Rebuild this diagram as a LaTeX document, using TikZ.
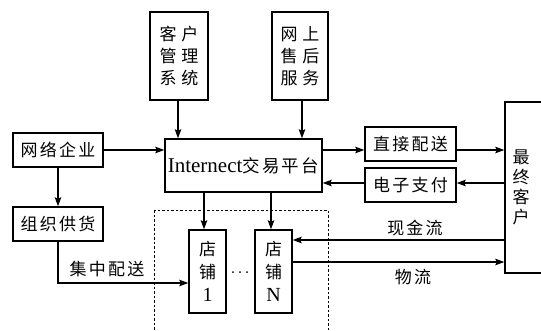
\documentclass[tikz,border=0pt]{standalone}
\usepackage{fontspec}
\setmainfont{Liberation Serif}
\newfontfamily\cjk{Noto Sans CJK SC}[LetterSpace=13]
\newfontfamily\cjkw{Noto Sans CJK SC}[LetterSpace=29]
\newfontfamily\cjkv{Noto Sans CJK SC}
\usetikzlibrary{arrows.meta}
\begin{document}
\begin{tikzpicture}[x=1pt,y=-1pt,
  box/.style={draw, line width=1.4pt, inner sep=0pt, align=center,
    font=\fontsize{17}{22}\selectfont},
  arr/.style={line width=1.2pt, -{Stealth[length=9pt,width=6.5pt,inset=1.5pt]}},
  lbl/.style={inner sep=0pt, font=\fontsize{17}{22}\selectfont\cjk}]
\useasboundingbox (0,0) rectangle (541,330);
\clip (0,0) rectangle (541,330);
% helper coordinates
\coordinate (y150) at (0,150);
\coordinate (y183) at (0,183);
\coordinate (y240) at (0,240);
\coordinate (y262) at (0,262);
\coordinate (y283) at (0,283);
\coordinate (x178) at (178,0);
\coordinate (x302) at (302,0);
\coordinate (x204) at (204,0);
\coordinate (x271) at (271,0);
% boxes
\node[box, minimum width=58pt, minimum height=88pt] (crm) at (179,56) {\cjkw 客户\\\cjkw 管理\\\cjkw 系统};
\node[box, minimum width=56pt, minimum height=88pt] (svc) at (300,56) {\cjkw 网上\\\cjkw 售后\\\cjkw 服务};
\node[box, minimum width=90pt, minimum height=34pt] (net) at (58,150) {\cjk 网络企业};
\node[box, minimum width=157pt, minimum height=53pt] (plat) at (243.5,165.5)
  {\fontsize{21}{24}\selectfont Internect{\cjk\fontsize{17.5}{20}\selectfont 交易平台}};
\node[box, minimum width=91pt, minimum height=34pt] (direct) at (410.5,144) {\cjk 直接配送};
\node[box, minimum width=91pt, minimum height=34pt] (pay) at (410.5,185) {\cjk 电子支付};
\node[box, minimum width=90pt, minimum height=34pt] (supply) at (58,224) {\cjk 组织供货};
\node[box, minimum width=37pt, minimum height=83pt, font=\fontsize{17}{23}\selectfont] (s1) at (207.5,271.5)
  {\cjkv 店\\\cjkv 铺\\\fontsize{20}{23}\selectfont 1};
\node[box, minimum width=37pt, minimum height=83pt, font=\fontsize{17}{23}\selectfont] (sN) at (273.5,271.5)
  {\cjkv 店\\\cjkv 铺\\\fontsize{20}{23}\selectfont N};
\node[box, minimum width=45pt, minimum height=171pt] (cust) at (527.5,187.5) {};
\node[inner sep=0pt, align=center, font=\fontsize{17}{20}\selectfont] (custt) at (521,187.5)
  {\cjkv 最\\\cjkv 终\\\cjkv 客\\\cjkv 户};
% dashed group
\draw[line width=1pt, dash pattern=on 2.5pt off 2pt] (154,210) rectangle (328,345);
% connectors
\draw[arr] (crm.south -| x178) -- (plat.north -| x178);
\draw[arr] (svc.south -| x302) -- (plat.north -| x302);
\draw[arr] (net.east) -- (net.east -| plat.west);
\draw[arr] (plat.east |- y150) -- (direct.west |- y150);
\draw[arr] (direct.east |- y150) -- (cust.west |- y150);
\draw[arr] (cust.west |- y183) -- (pay.east |- y183);
\draw[arr] (pay.west |- y183) -- (plat.east |- y183);
\draw[arr] (net.south) -- (supply.north);
\draw[arr] (supply.south) |- (s1.west |- y283);
\draw[arr] (plat.south -| x204) -- (s1.north -| x204);
\draw[arr] (plat.south -| x271) -- (sN.north -| x271);
\draw[arr] (cust.west |- y240) -- (sN.east |- y240);
\draw[arr] (sN.east |- y262) -- (cust.west |- y262);
% labels
\node[lbl] (lz) at (107,269) {集中配送};
\node[lbl] (lx) at (415,228) {现金流};
\node[lbl] (lw) at (413,277) {物流};
\fill (233,272) circle (1pt) (240,272) circle (1pt) (247,272) circle (1pt);
\end{tikzpicture}
\end{document}
